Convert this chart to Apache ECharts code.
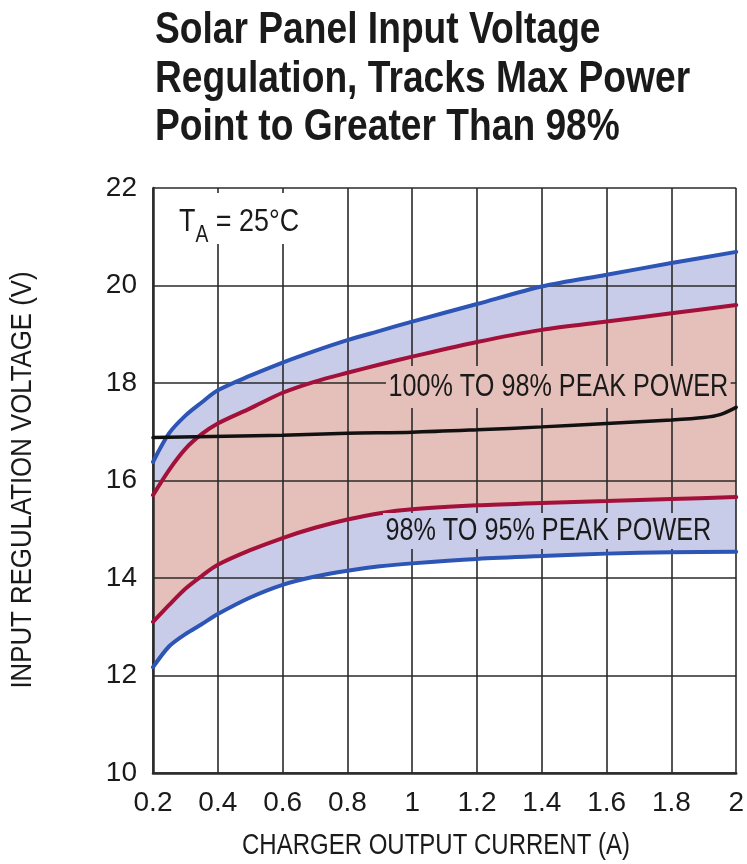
<!DOCTYPE html>
<html>
<head>
<meta charset="utf-8">
<script src="https://cdn.jsdelivr.net/npm/echarts@6/dist/echarts.min.js"></script>
<style>
html,body{margin:0;padding:0;background:#fff;}
#chart{width:747px;height:864px;}
</style>
</head>
<body>
<div id="chart"></div>
<script>
// ---- data ----
const current = [0.2, 0.25, 0.3, 0.35, 0.4, 0.5, 0.6, 0.7, 0.8, 0.9, 1.0, 1.2, 1.4, 1.6, 1.8, 2.0];
const upperBlue = [16.38, 16.97, 17.33, 17.6, 17.85, 18.15, 18.42, 18.66, 18.88, 19.07, 19.26, 19.62, 19.98, 20.22, 20.46, 20.69];
const upperRed  = [15.7, 16.22, 16.65, 16.95, 17.17, 17.48, 17.8, 18.03, 18.21, 18.38, 18.54, 18.84, 19.09, 19.26, 19.43, 19.6];
const lowerRed  = [13.1, 13.45, 13.78, 14.04, 14.27, 14.57, 14.82, 15.03, 15.2, 15.33, 15.41, 15.49, 15.54, 15.58, 15.62, 15.66];
const lowerBlue = [12.17, 12.6, 12.85, 13.05, 13.26, 13.6, 13.86, 14.03, 14.15, 14.24, 14.3, 14.39, 14.45, 14.5, 14.53, 14.54];
const mppCurrent = [0.2, 0.6, 0.8, 1.0, 1.2, 1.4, 1.6, 1.8, 1.9, 1.95, 2.0];
const mppVoltage = [16.88, 16.93, 16.97, 16.99, 17.04, 17.1, 17.17, 17.24, 17.29, 17.35, 17.5];
const xTicks = [0.2, 0.4, 0.6, 0.8, 1, 1.2, 1.4, 1.6, 1.8, 2];
const yTicks = [10, 12, 14, 16, 18, 20, 22];
const titleLines = ['Solar Panel Input Voltage', 'Regulation, Tracks Max Power', 'Point to Greater Than 98%'];
const xAxisTitle = 'CHARGER OUTPUT CURRENT (A)';
const yAxisTitle = 'INPUT REGULATION VOLTAGE (V)';
const bandLabelHigh = '100% TO 98% PEAK POWER';
const bandLabelLow = '98% TO 95% PEAK POWER';

const BLUE_LINE = '#2d55b5', RED_LINE = '#a3103a';
const BLUE_FILL = '#c9cce8', PINK_FILL = '#e5bfb9';
const GRID = '#2a2a2a', INK = '#1a1a1a';
const FONT = '"Liberation Sans", Arial, Helvetica, sans-serif';

const pairs = (xs, ys) => xs.map((x, i) => [x, ys[i]]);
// band data stored as [voltage, current] so the stack is applied on the voltage dimension
const bandPairs = (ys) => current.map((x, i) => [ys[i], x]);
const diff = (a, b) => a.map((v, i) => +(v - b[i]).toFixed(4));

const chart = echarts.init(document.getElementById('chart'), null, {renderer: 'canvas'});
const SM = 0.3;
const bandSeries = (name, vals, color) => ({
  name, type: 'line', stack: 'band', smooth: SM, symbol: 'none', z: 1,
  encode: {x: 1, y: 0},
  data: bandPairs(vals),
  lineStyle: {width: 0, opacity: 0},
  areaStyle: color ? {color, opacity: 1} : {opacity: 0},
  silent: true
});
const lineSeries = (name, xs, vals, color, w) => ({
  name, type: 'line', smooth: SM, symbol: 'none', z: 3,
  data: pairs(xs, vals),
  lineStyle: {color, width: w, cap: 'round'},
  silent: true
});

const titleGraphics = titleLines.map((t, i) => ({
  type: 'text', x: 155, y: 31 + i * 48.5, scaleX: 0.845, z: 100,
  style: {text: t, fontFamily: FONT, fontWeight: 'bold', fontSize: 44, fill: INK,
    align: 'left', verticalAlign: 'middle'}
}));

chart.setOption({
  animation: false,
  backgroundColor: '#fff',
  grid: {left: 153, right: 8, top: 188, bottom: 91, containLabel: false},
  xAxis: {
    type: 'value', min: 0.2, max: 2, interval: 0.2, z: 2,
    axisLine: {lineStyle: {color: GRID, width: 2.5}},
    axisTick: {show: false},
    axisLabel: {fontFamily: FONT, fontSize: 28, color: INK, margin: 16,
      formatter: v => String(+(+v).toFixed(1)),
      showMinLabel: true, showMaxLabel: true},
    splitLine: {show: true, lineStyle: {color: GRID, width: 1.6}}
  },
  yAxis: {
    type: 'value', min: 10, max: 22, interval: 2, z: 2,
    axisLine: {show: true, lineStyle: {color: GRID, width: 2.5}},
    axisTick: {show: false},
    axisLabel: {fontFamily: FONT, fontSize: 28, color: INK, margin: 16},
    splitLine: {show: true, lineStyle: {color: GRID, width: 1.6}}
  },
  graphic: titleGraphics.concat([
    {type: 'text', x: 436, y: 846, scaleX: 0.8, z: 100,
      style: {text: xAxisTitle, fontFamily: FONT, fontSize: 30, fill: INK, align: 'center', verticalAlign: 'middle'}},
    {type: 'text', x: 23, y: 480, rotation: Math.PI / 2, scaleX: 0.86, z: 100,
      style: {text: yAxisTitle, fontFamily: FONT, fontSize: 30, fill: INK, align: 'center', verticalAlign: 'middle'}},
    {type: 'text', x: 174, y: 193, scaleX: 0.84, z: 100,
      style: {
        text: '{t|T}{s|A}{t| = 25°C}',
        backgroundColor: '#fff', padding: [5, 6, 6, 6],
        rich: {
          t: {fontFamily: FONT, fontSize: 32, fill: INK, color: INK, verticalAlign: 'bottom', lineHeight: 40},
          s: {fontFamily: FONT, fontSize: 23, fill: INK, color: INK, verticalAlign: 'bottom', lineHeight: 32, padding: [0, 0, -9, 0]}
        }
      }
    },
    {type: 'text', x: 386, y: 387, scaleX: 0.8, z: 100,
      style: {text: bandLabelHigh, fontFamily: FONT, fontSize: 31.5, fill: INK, align: 'left', verticalAlign: 'middle',
        backgroundColor: PINK_FILL, padding: [5, 3, 5, 3], lineHeight: 32}
    },
    {type: 'text', x: 383, y: 531, scaleX: 0.8, z: 100,
      style: {text: bandLabelLow, fontFamily: FONT, fontSize: 31.5, fill: INK, align: 'left', verticalAlign: 'middle',
        backgroundColor: BLUE_FILL, padding: [2, 3, 2, 3], lineHeight: 32}
    }
  ]),
  series: [
    bandSeries('base', lowerBlue, null),
    bandSeries('lowBand', diff(lowerRed, lowerBlue), BLUE_FILL),
    bandSeries('midBand', diff(upperRed, lowerRed), PINK_FILL),
    bandSeries('highBand', diff(upperBlue, upperRed), BLUE_FILL),
    lineSeries('95% upper', current, upperBlue, BLUE_LINE, 4),
    lineSeries('98% upper', current, upperRed, RED_LINE, 4),
    lineSeries('98% lower', current, lowerRed, RED_LINE, 4),
    lineSeries('95% lower', current, lowerBlue, BLUE_LINE, 4),
    lineSeries('MPP', mppCurrent, mppVoltage, '#111', 3.5)
  ]
});
</script>
</body>
</html>
